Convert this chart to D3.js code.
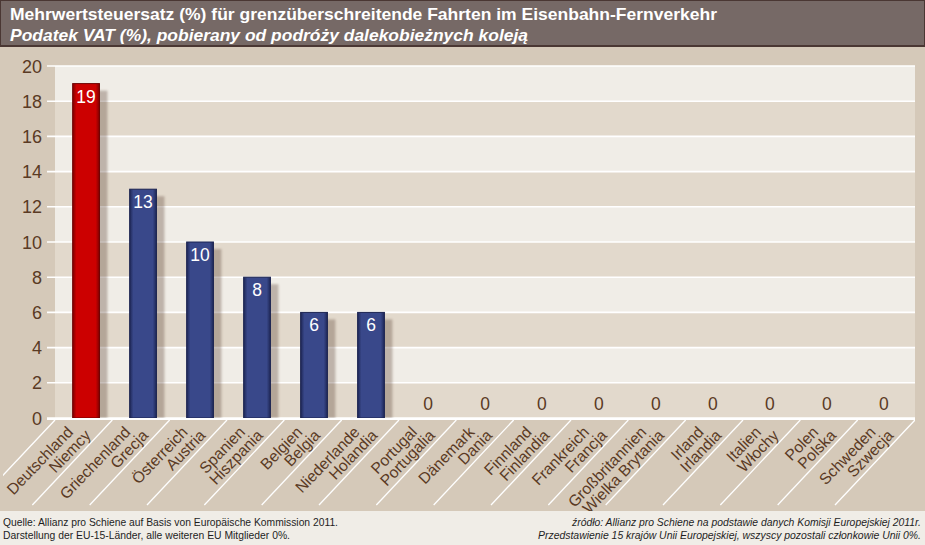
<!DOCTYPE html>
<html><head><meta charset="utf-8">
<script src="https://cdn.jsdelivr.net/npm/d3@7"></script>
<style>html,body{margin:0;padding:0;background:#D5C9B9;}svg{display:block;}</style>
</head><body>
<script>
const categoriesDe = ["Deutschland","Griechenland","Österreich","Spanien","Belgien","Niederlande","Portugal","Dänemark","Finnland","Frankreich","Großbritannien","Irland","Italien","Polen","Schweden"];
const categoriesPl = ["Niemcy","Grecja","Austria","Hiszpania","Belgia","Holandia","Portugalia","Dania","Finlandia","Francja","Wielka Brytania","Irlandia","Włochy","Polska","Szwecja"];
const vatValues = [19,13,10,8,6,6,0,0,0,0,0,0,0,0,0];
const highlighted = ["Deutschland"];
const yTicks = [0,2,4,6,8,10,12,14,16,18,20];
const titleDe = "Mehrwertsteuersatz (%) für grenzüberschreitende Fahrten im Eisenbahn-Fernverkehr";
const titlePl = "Podatek VAT (%), pobierany od podróży dalekobieżnych koleją";
const sourceDe = ["Quelle: Allianz pro Schiene auf Basis von Europäische Kommission 2011.","Darstellung der EU-15-Länder, alle weiteren EU Mitglieder 0%."];
const sourcePl = ["źródło: Allianz pro Schiene na podstawie danych Komisji Europejskiej 2011r.","Przedstawienie 15 krajów Unii Europejskiej, wszyscy pozostali członkowie Unii 0%."];

const W = 925, H = 545;
const FONT = "'Liberation Sans', Arial, sans-serif";
const svg = d3.select("body").append("svg").attr("width", W).attr("height", H).style("font-family", FONT);

const defs = svg.append("defs");
function grad(id, dark, main) {
  const g = defs.append("linearGradient").attr("id", id).attr("x1","0").attr("x2","1").attr("y1","0").attr("y2","0");
  g.append("stop").attr("offset","0%").attr("stop-color", dark);
  g.append("stop").attr("offset","14%").attr("stop-color", main);
  g.append("stop").attr("offset","86%").attr("stop-color", main);
  g.append("stop").attr("offset","100%").attr("stop-color", dark);
}
grad("gRed", "#7E0000", "#CC0000");
grad("gBlue", "#1E2756", "#39488A");
defs.append("filter").attr("id","blur").append("feGaussianBlur").attr("stdDeviation", 1.2);

// background
svg.append("rect").attr("width", W).attr("height", H).attr("fill", "#D5C9B9");

// title
svg.append("rect").attr("x",0).attr("y",0).attr("width",W).attr("height",47).attr("fill","#4A3733");
svg.append("rect").attr("x",1).attr("y",1).attr("width",W-2).attr("height",44).attr("fill","#766966");
svg.append("text").attr("x",10).attr("y",20).attr("fill","#fff").attr("font-size",17).attr("font-weight","bold")
  .attr("textLength",707).attr("lengthAdjust","spacingAndGlyphs").text(titleDe);
svg.append("text").attr("x",10).attr("y",41).attr("fill","#fff").attr("font-size",17).attr("font-weight","bold").attr("font-style","italic")
  .attr("textLength",518).attr("lengthAdjust","spacingAndGlyphs").text(titlePl);

// scales
const x0 = 55, x1 = 915, yTop = 66, yBot = 418;
const x = d3.scaleBand().domain(categoriesDe).range([x0, x1]).paddingInner(0.53).paddingOuter(0.31);
const y = d3.scaleLinear().domain([0, 20]).range([yBot, yTop]);
const slot = d3.scaleBand().domain(categoriesDe).range([x0, x1]);

// bands
const g = svg.append("g");
for (let i = 0; i < yTicks.length - 1; i++) {
  g.append("rect").attr("x", x0).attr("width", x1 - x0)
    .attr("y", y(yTicks[i+1])).attr("height", y(yTicks[i]) - y(yTicks[i+1]))
    .attr("fill", i % 2 === 0 ? "#E2D9CC" : "#F0EDE7");
}
// grid lines + ticks
g.selectAll("line.grid").data(yTicks).join("line")
  .attr("x1", 47).attr("x2", x1).attr("y1", d => y(d)).attr("y2", d => y(d))
  .attr("stroke", "#fff").attr("stroke-width", 1.6);
g.selectAll("text.ytick").data(yTicks).join("text")
  .attr("x", 42).attr("y", d => y(d) + 6.5).attr("text-anchor", "end")
  .attr("font-size", 18).attr("fill", "#5A3A24").text(d => d);

// shadows
const data = categoriesDe.map((c, i) => ({c, pl: categoriesPl[i], v: vatValues[i]}));
g.selectAll("rect.shadow").data(data.filter(d => d.v > 0)).join("rect")
  .attr("x", d => x(d.c) + 8).attr("y", d => y(d.v) + 7)
  .attr("width", x.bandwidth()).attr("height", d => Math.max(0, yBot - y(d.v) - 7))
  .attr("fill", "#5A4030").attr("opacity", 0.33).attr("filter", "url(#blur)");
// bars
g.selectAll("rect.bar").data(data.filter(d => d.v > 0)).join("rect")
  .attr("x", d => x(d.c)).attr("y", d => y(d.v))
  .attr("width", x.bandwidth()).attr("height", d => yBot - y(d.v))
  .attr("fill", d => highlighted.includes(d.c) ? "url(#gRed)" : "url(#gBlue)")
  .attr("stroke", d => highlighted.includes(d.c) ? "#6E0000" : "#1B2350").attr("stroke-width", 1);
// value labels
g.selectAll("text.val").data(data).join("text")
  .attr("x", d => x(d.c) + x.bandwidth() / 2)
  .attr("y", d => d.v > 0 ? y(d.v) + 19 : yBot - 8)
  .attr("text-anchor", "middle").attr("font-size", 17.5)
  .attr("fill", d => d.v > 0 ? "#fff" : "#5A3A24").text(d => d.v);

// x axis line
svg.append("line").attr("x1", 47).attr("x2", x1).attr("y1", yBot + 1).attr("y2", yBot + 1).attr("stroke", "#fff").attr("stroke-width", 2);

// diagonal separators
const clip = defs.append("clipPath").attr("id", "lowclip");
clip.append("rect").attr("x", 3).attr("y", yBot).attr("width", 912).attr("height", 93);
const lg = svg.append("g").attr("clip-path", "url(#lowclip)");
const bounds = categoriesDe.map(c => slot(c)).concat([x1]);
lg.selectAll("line.sep").data(bounds).join("line")
  .attr("x1", d => d).attr("y1", yBot + 2).attr("x2", d => d - 80).attr("y2", yBot + 2 + 85)
  .attr("stroke", "#fff").attr("stroke-width", 1.3);

// x labels
const lab = lg.selectAll("g.lab").data(data).join("g")
  .attr("transform", d => `translate(${slot(d.c) + 19},${yBot + 15}) rotate(-46)`);
lab.append("text").attr("text-anchor", "end").attr("font-size", 15.7).attr("fill", "#5A3A24").text(d => d.c);
lab.append("text").attr("text-anchor", "end").attr("font-size", 15.7).attr("fill", "#5A3A24")
  .attr("x", 10).attr("y", 15).text(d => d.pl);

// footer
const srcLenDe = [335, 287], srcLenPl = [349, 383];
svg.append("rect").attr("x", 0).attr("y", 511).attr("width", W).attr("height", H - 511).attr("fill", "#F0EDE7");
svg.selectAll("text.srcde").data(sourceDe).join("text")
  .attr("x", 3).attr("y", (d, i) => 526 + i * 13).attr("font-size", 10.4).attr("fill", "#1E1E1E")
  .attr("textLength", (d, i) => srcLenDe[i]).attr("lengthAdjust", "spacingAndGlyphs").text(d => d);
svg.selectAll("text.srcpl").data(sourcePl).join("text")
  .attr("x", 921).attr("y", (d, i) => 526 + i * 13).attr("text-anchor", "end").attr("font-style", "italic")
  .attr("font-size", 10.3).attr("fill", "#1E1E1E")
  .attr("textLength", (d, i) => srcLenPl[i]).attr("lengthAdjust", "spacingAndGlyphs").text(d => d);
</script>
</body></html>
